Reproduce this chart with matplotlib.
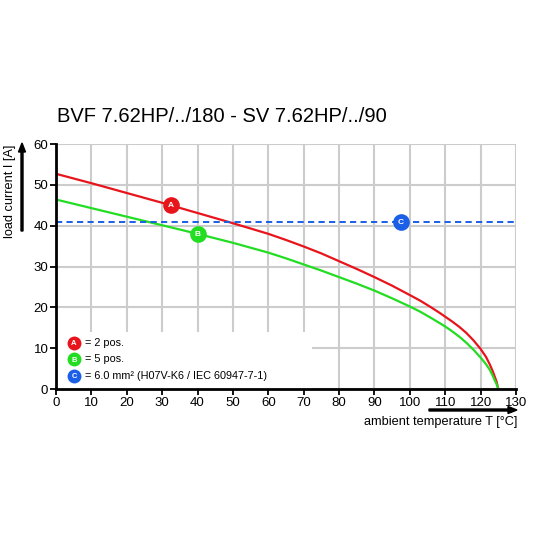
import matplotlib
matplotlib.use("Agg")
import matplotlib.pyplot as plt
from matplotlib.patches import Rectangle, FancyArrow

plt.rcParams['font.family'] = ['Liberation Sans', 'DejaVu Sans']

title = "BVF 7.62HP/../180 - SV 7.62HP/../90"
temps_red = [0, 10, 20, 30, 40, 50, 60, 65, 70, 75, 80, 85, 90, 95, 100, 103, 106, 108.5, 110, 112, 114, 116, 118, 120, 121.5, 122.6, 123.5, 124, 124.5, 125]
red_vals = [52.7, 50.4, 48.0, 45.6, 43.1, 40.6, 38.0, 36.5, 34.9, 33.2, 31.3, 29.4, 27.4, 25.3, 23.0, 21.6, 20.0, 18.6, 17.7, 16.5, 15.2, 13.7, 11.9, 9.8, 7.9, 6.0, 4.2, 3.0, 1.8, 0]
temps_green = [0, 10, 20, 30, 40, 50, 60, 65, 70, 75, 80, 85, 90, 95, 100, 103, 106, 108.5, 110, 112, 114, 116, 118, 120, 121.5, 122.6, 123.5, 124, 124.5, 125]
green_vals = [46.4, 44.3, 42.2, 40.1, 38.0, 35.8, 33.4, 32.0, 30.5, 29.0, 27.4, 25.8, 24.1, 22.2, 20.2, 18.9, 17.4, 16.1, 15.3, 14.1, 12.8, 11.3, 9.6, 7.7, 6.1, 4.7, 3.1, 2.1, 1.2, 0]
limit_c = 41
xticks = list(range(0, 131, 10))
yticks = list(range(0, 61, 10))
legend_labels = ["= 2 pos.", "= 5 pos.", "= 6.0 mm² (H07V-K6 / IEC 60947-7-1)"]
marker_letters = ["A", "B", "C"]
marker_pos = [(32.4, 45.1), (40, 38.0), (97.5, 41.0)]
legend_y = [11.3, 7.3, 3.2]

red = "#e8141c"
green = "#22dd22"
blue = "#1a5fe6"
colors = [red, green, blue]

fig = plt.figure(figsize=(5.33, 5.33), dpi=100)
ax = fig.add_axes([56/533, 1-389/533, 460/533, 245/533])
ax.set_xlim(0, 130)
ax.set_ylim(0, 60)
ax.set_xticks(xticks)
ax.set_yticks(yticks)
ax.grid(True, color="#cccccc", linewidth=1.5, zorder=0)
ax.set_axisbelow(True)
for s in ["top", "right"]:
    ax.spines[s].set_visible(False)
for s in ["left", "bottom"]:
    ax.spines[s].set_linewidth(2)
    ax.spines[s].set_zorder(6)
ax.tick_params(axis="both", labelsize=9.5, length=4, width=1.3, pad=1.5, colors="black")

# white box behind legend
ax.add_patch(Rectangle((0, 0), 72.3, 14.0, facecolor="white", edgecolor="none", zorder=1))

ax.plot(temps_red, red_vals, color=red, linewidth=1.6, zorder=3, solid_joinstyle="round")
ax.plot(temps_green, green_vals, color=green, linewidth=1.6, zorder=3, solid_joinstyle="round")
ax.axhline(limit_c, color=blue, linewidth=1.4, linestyle=(0, (3.2, 2.2)), zorder=3)

for (mx, my), c, l in zip(marker_pos, colors, marker_letters):
    ax.plot([mx], [my], "o", markersize=12, color=c, zorder=5, markeredgewidth=0)
    ax.text(mx, my, l, color="white", fontsize=6, fontweight="bold", ha="center", va="center_baseline", zorder=6)

for y, c, l, t in zip(legend_y, colors, marker_letters, legend_labels):
    ax.plot([5.1], [y], "o", markersize=10, color=c, zorder=5, markeredgewidth=0, clip_on=False)
    ax.text(5.1, y, l, color="white", fontsize=5.5, fontweight="bold", ha="center", va="center_baseline", zorder=6)
    ax.text(8.1, y, t, fontsize=7.8, ha="left", va="center", zorder=6)

fig.text(57/533, 1-117/533, title, fontsize=14.5, ha="left", va="center")
fig.text(10/533, 1-191/533, "load current I [A]", rotation=90, fontsize=9.2, ha="center", va="center")
fig.text(517/533, 1-422/533, "ambient temperature T [°C]", fontsize=9.2, ha="right", va="center")

fig.patches.append(FancyArrow(22/533, 1-231/533, 0, 88/533, width=2/533,
                   head_width=7/533, head_length=9/533, length_includes_head=True,
                   color="black", transform=fig.transFigure, figure=fig))
fig.patches.append(FancyArrow(429/533, 1-410/533, 88/533, 0, width=2/533,
                   head_width=7/533, head_length=9/533, length_includes_head=True,
                   color="black", transform=fig.transFigure, figure=fig))

fig.savefig("out.png", dpi=100, facecolor="white")
